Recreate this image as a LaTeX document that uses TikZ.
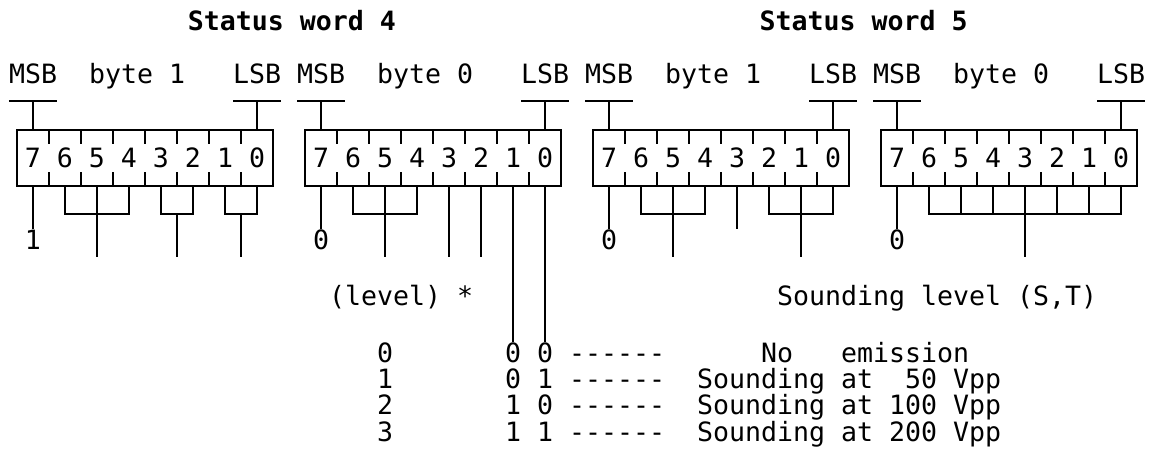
\documentclass[tikz,border=0pt]{standalone}
\usepackage{fontspec}
\usepackage{tikz}
\newfontfamily\monofont{DejaVu Sans Mono}
\newcommand{\dashes}{-\kern0pt-\kern0pt-\kern0pt-\kern0pt-\kern0pt-}

\begin{document}
\begin{tikzpicture}[x=16pt,y=-1pt,
  wire/.style={line width=2pt},
  txt/.style={font=\monofont\fontsize{26.58pt}{28pt}\selectfont,inner sep=0pt,anchor=base west},
  digit/.style={font=\monofont\fontsize{26.58pt}{28pt}\selectfont,inner sep=0pt,anchor=base},
  title/.style={font=\monofont\bfseries\fontsize{26.58pt}{28pt}\selectfont,inner sep=0pt,anchor=base west}]
  \useasboundingbox (-1.0625,0) rectangle (70.75,450);
  % Titel
  \node[title] (sw4) at (10.66,30) {Status word 4};
  \node[title] (sw5) at (46.4,30) {Status word 5};
  % Bytes
  \foreach \s/\bn/\lab [count=\bx] in {0/1/1,18/0/0,36/1/0,54/0/0} {
    \node[txt] (msb\bx) at (\s-0.5,83) {MSB};
    \node[txt] (byte\bx) at (\s+4.5,83) {byte \bn};
    \node[txt] (lsb\bx) at (\s+13.5,83) {LSB};
    \draw[wire] (\s-0.5,101) -- (\s+2.5,101) (\s+1,101) -- (\s+1,130);
    \draw[wire] (\s+13.5,101) -- (\s+16.5,101) (\s+15,101) -- (\s+15,130);
    \draw[wire] (\s,130) rectangle (\s+16,186);
    \foreach \k in {2,4,...,14} {
      \draw[wire] (\s+\k,130) -- (\s+\k,144) (\s+\k,172) -- (\s+\k,186);
    }
    \foreach \d in {0,...,7} {
      \node[digit] (d\bx-\d) at (\s+15-2*\d,167) {\d};
    }
    % Bit 7
    \draw[wire] (\s+1,186) -- (\s+1,229);
    \node[digit] (val\bx) at (\s+1,249) {\lab};
  }
  % Status word 4, byte 1
  \draw[wire] (3,186) |- (7,214) -- (7,186) (5,186) -- (5,257);
  \draw[wire] (9,186) |- (11,214) -- (11,186) (10,214) -- (10,257);
  \draw[wire] (13,186) |- (15,214) -- (15,186) (14,214) -- (14,257);
  % Status word 4, byte 0
  \draw[wire] (21,186) |- (25,214) -- (25,186) (23,186) -- (23,257);
  \draw[wire] (27,186) -- (27,257) (29,186) -- (29,257);
  \draw[wire] (31,186) -- (31,342) (33,186) -- (33,342);
  % Status word 5, byte 1
  \draw[wire] (39,186) |- (43,214) -- (43,186) (41,186) -- (41,257);
  \draw[wire] (45,186) -- (45,229);
  \draw[wire] (47,186) |- (51,214) -- (51,186) (49,186) -- (49,257);
  % Status word 5, byte 0
  \draw[wire] (57,186) |- (69,214) -- (69,186);
  \foreach \k in {59,61,...,67} \draw[wire] (\k,186) -- (\k,214);
  \draw[wire] (63,214) -- (63,257);
  % Beschriftung
  \node[txt] (level) at (19.5,305) {(level) *};
  \node[txt] (sound) at (47.5,305) {Sounding level (S,T)};
  % Tabelle
  \foreach \lv/\hi/\lo [count=\r from 0] in {0/0/0,1/0/1,2/1/0,3/1/1} {
    \node[digit] (lev\lv) at (23,362+26.4*\r) {\lv};
    \node[digit] (hi\lv) at (31,362+26.4*\r) {\hi};
    \node[digit] (lo\lv) at (33,362+26.4*\r) {\lo};
    \node[txt] (dash\lv) at (34.5,362+26.4*\r) {\dashes};
  }
  \node[txt] (em0) at (46.5,362) {No\ \ \ emission};
  \node[txt] (em1) at (42.5,388.4) {Sounding at\ \ 50 Vpp};
  \node[txt] (em2) at (42.5,414.8) {Sounding at 100 Vpp};
  \node[txt] (em3) at (42.5,441.2) {Sounding at 200 Vpp};
\end{tikzpicture}
\end{document}
